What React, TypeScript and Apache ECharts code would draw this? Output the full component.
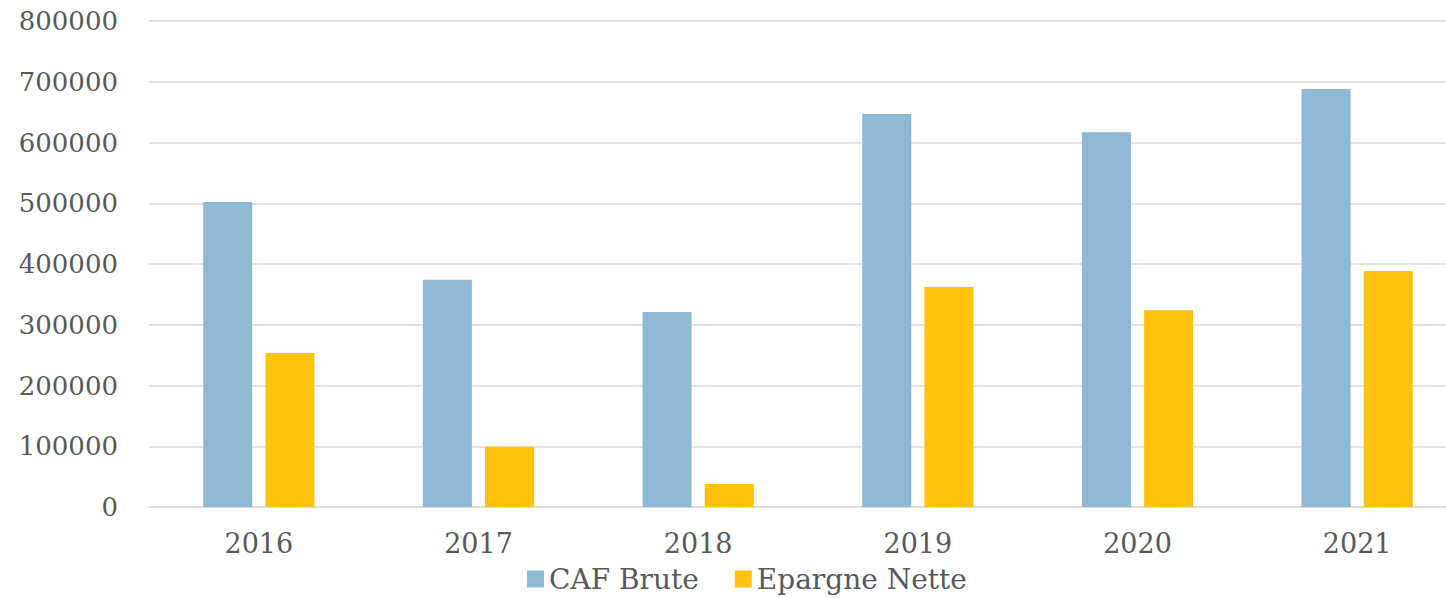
import React, { useEffect, useRef } from "react";
import * as echarts from "echarts";

const years = ["2016", "2017", "2018", "2019", "2020", "2021"];
const cafBrute = [502000, 374000, 321000, 647000, 617000, 688000];
const epargneNette = [253500, 99000, 38000, 362000, 324000, 388500];
const yTicks = { min: 0, max: 800000, interval: 100000 };

const FONT = "'DejaVu Serif', serif";
const TXT = "#595959";

export default function App() {
  const ref = useRef<HTMLDivElement>(null);
  useEffect(() => {
    const chart = echarts.init(ref.current!, null, { renderer: "svg" });
    chart.setOption({
      animation: false,
      grid: { left: 149, top: 21, right: 0, bottom: 91, containLabel: false },
      legend: {
        bottom: 0,
        left: 522,
        itemWidth: 17,
        itemHeight: 17,
        itemGap: 36,
        icon: "rect",
        textStyle: { fontFamily: FONT, fontSize: 28, color: TXT },
        data: ["CAF Brute", "Epargne Nette"],
      },
      xAxis: {
        type: "category",
        data: years,
        axisTick: { show: false },
        axisLine: { lineStyle: { color: "#D9D9D9", width: 1.5 } },
        axisLabel: { fontFamily: FONT, fontSize: 27, color: TXT, margin: 23 },
      },
      yAxis: {
        type: "value",
        min: yTicks.min,
        max: yTicks.max,
        interval: yTicks.interval,
        axisLine: { show: false },
        axisTick: { show: false },
        splitLine: { lineStyle: { color: "#D9D9D9", width: 1.5 } },
        axisLabel: {
          fontFamily: FONT,
          fontSize: 26,
          color: TXT,
          margin: 31,
          formatter: (v: number) => String(v),
        },
      },
      series: [
        {
          name: "CAF Brute",
          type: "bar",
          data: cafBrute,
          barWidth: 49,
          barGap: "27%",
          itemStyle: { color: "#8DB9D4" },
        },
        {
          name: "Epargne Nette",
          type: "bar",
          data: epargneNette,
          barWidth: 49,
          itemStyle: { color: "#FFC20E" },
        },
      ],
    });
    return () => chart.dispose();
  }, []);
  return (
    <div style={{ position: "absolute", left: 0, top: 0, width: 1446, height: 598, overflow: "hidden" }}>
      <div ref={ref} style={{ width: 1467, height: 598 }} />
    </div>
  );
}
